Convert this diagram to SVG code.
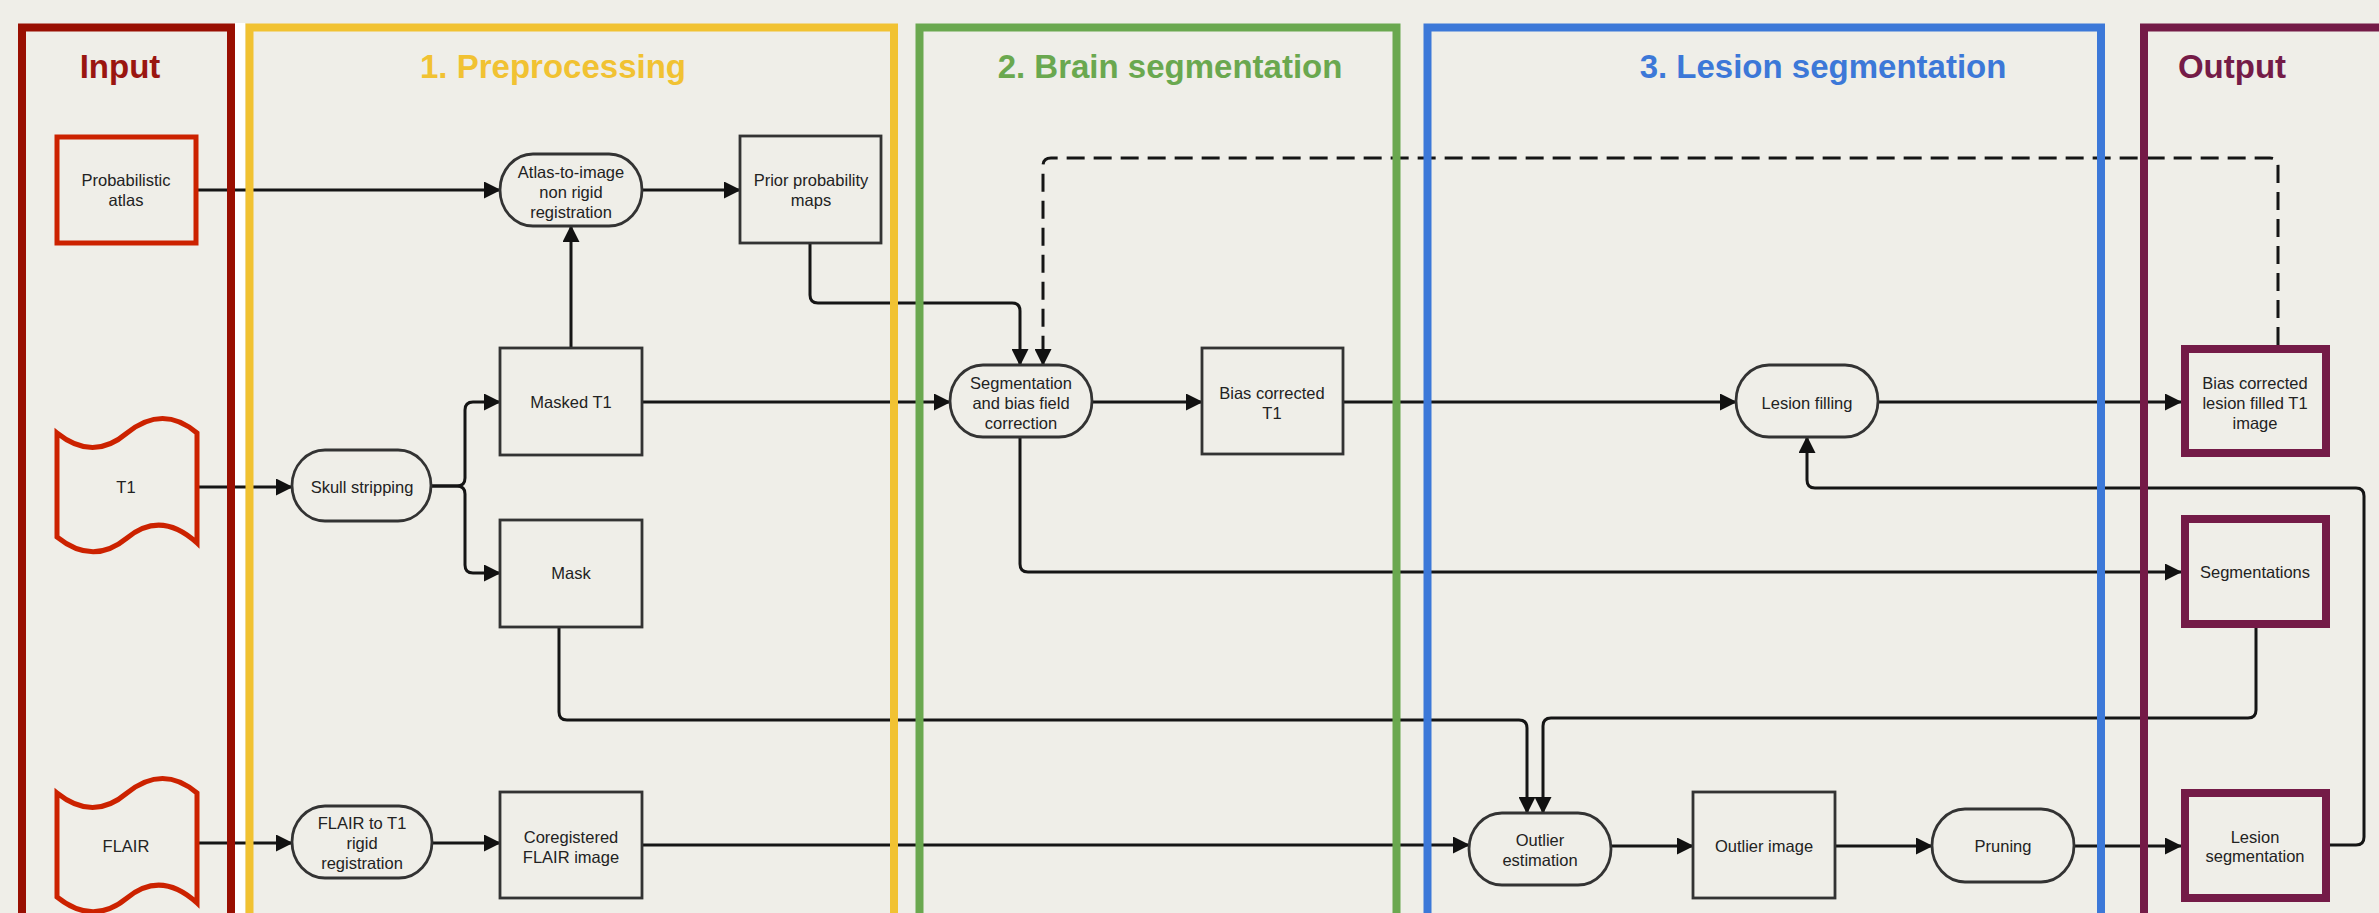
<svg xmlns="http://www.w3.org/2000/svg" width="2379" height="913" viewBox="0 0 2379 913">
<defs>
<style>
.bg{fill:#EFEEE8}
.panel{fill:none;stroke-width:8}
.title{font-family:"Liberation Sans",Arial,sans-serif;font-weight:bold;font-size:33px;text-anchor:middle}
.lbl{font-family:"Liberation Sans",Arial,sans-serif;font-size:16.5px;fill:#222;text-anchor:middle}
.proc{fill:#EFEEE8;stroke:#333;stroke-width:2.8}
.inp{fill:#EFEEE8;stroke:#CC2200;stroke-width:5}
.out{fill:#EFEEE8;stroke:#741B47;stroke-width:8}
.conn{fill:none;stroke:#151515;stroke-width:3}
.dash{stroke-dasharray:18 9}
</style>
<marker id="arr" viewBox="0 0 17 17" refX="16" refY="8.5" markerWidth="17" markerHeight="17" markerUnits="userSpaceOnUse" orient="auto">
<path d="M0,0 L17,8.5 L0,17 Z" fill="#111"/>
</marker>
</defs>
<rect class="bg" x="0" y="0" width="2379" height="913"/>
<rect x="235" y="23" width="10" height="900" fill="#FFFFFF"/>

<g id="connectors">
<path class="conn" marker-end="url(#arr)" d="M198,190 H500"/>
<path class="conn" marker-end="url(#arr)" d="M642,190 H740"/>
<path class="conn" marker-end="url(#arr)" d="M571,348 V226"/>
<path class="conn" marker-end="url(#arr)" d="M197,487 H292"/>
<path class="conn" marker-end="url(#arr)" d="M431,486 H457 Q465,486 465,478 V410 Q465,402 473,402 H500"/>
<path class="conn" marker-end="url(#arr)" d="M431,486 H457 Q465,486 465,494 V565 Q465,573 473,573 H500"/>
<path class="conn" marker-end="url(#arr)" d="M197,843 H292"/>
<path class="conn" marker-end="url(#arr)" d="M432,843 H500"/>
<path class="conn" marker-end="url(#arr)" d="M642,845 H1469"/>
<path class="conn" marker-end="url(#arr)" d="M642,402 H950"/>
<path class="conn" marker-end="url(#arr)" d="M810,243 V295 Q810,303 818,303 H1012 Q1020,303 1020,311 V365"/>
<path class="conn" marker-end="url(#arr)" d="M1092,402 H1202"/>
<path class="conn" marker-end="url(#arr)" d="M1343,402 H1736"/>
<path class="conn" marker-end="url(#arr)" d="M1878,402 H2181"/>
<path class="conn dash" marker-end="url(#arr)" d="M2278,345 V166 Q2278,158 2270,158 H1051 Q1043,158 1043,166 V365"/>
<path class="conn" marker-end="url(#arr)" d="M1020,437 V564 Q1020,572 1028,572 H2181"/>
<path class="conn" marker-end="url(#arr)" d="M559,627 V712 Q559,720 567,720 H1519 Q1527,720 1527,728 V813"/>
<path class="conn" marker-end="url(#arr)" d="M2256,628 V710 Q2256,718 2248,718 H1551 Q1543,718 1543,726 V813"/>
<path class="conn" marker-end="url(#arr)" d="M1611,846 H1693"/>
<path class="conn" marker-end="url(#arr)" d="M1835,846 H1932"/>
<path class="conn" marker-end="url(#arr)" d="M2074,846 H2181"/>
<path class="conn" marker-end="url(#arr)" d="M2330,845 H2356 Q2364,845 2364,837 V496 Q2364,488 2356,488 H1815 Q1807,488 1807,480 V437"/>
</g>

<g id="panel-input">
<rect class="panel" x="22" y="27.5" width="209" height="1000" stroke="#990F02"/>
<text class="title" x="120" y="78" fill="#9A1510">Input</text>
</g>
<g id="panel-preprocessing">
<rect class="panel" x="249.5" y="27.5" width="644.5" height="1000" stroke="#F1C232"/>
<text class="title" x="553" y="78" fill="#F1C232">1. Preprocessing</text>
</g>
<g id="panel-brain">
<rect class="panel" x="919.5" y="27.5" width="477" height="1000" stroke="#6AA84F"/>
<text class="title" x="1170" y="78" fill="#6AA84F">2. Brain segmentation</text>
</g>
<g id="panel-lesion">
<rect class="panel" x="1427.5" y="27.5" width="673.5" height="1000" stroke="#3C78D8"/>
<text class="title" x="1823" y="78" fill="#3C78D8">3. Lesion segmentation</text>
</g>
<g id="panel-output">
<rect class="panel" x="2144" y="27.5" width="400" height="1000" stroke="#741B47"/>
<text class="title" x="2232" y="78" fill="#741B47">Output</text>
</g>

<g id="node-prob-atlas">
<rect class="inp" x="57" y="137" width="139" height="106"/>
<text class="lbl" x="126" y="186">Probabilistic</text>
<text class="lbl" x="126" y="206">atlas</text>
</g>
<g id="node-t1">
<path class="inp" d="M57,433 Q93,462 127,433 Q163,404 197,433 L197,543 Q161,510 127,538 Q93,566 57,537 Z"/>
<text class="lbl" x="126" y="493">T1</text>
</g>
<g id="node-flair">
<path class="inp" d="M57,793 Q93,822 127,793 Q163,764 197,793 L197,903 Q161,870 127,898 Q93,926 57,897 Z"/>
<text class="lbl" x="126" y="852">FLAIR</text>
</g>

<g id="node-atlas-reg">
<rect class="proc" x="500" y="154" width="142" height="72" rx="33" ry="36"/>
<text class="lbl" x="571" y="178">Atlas-to-image</text>
<text class="lbl" x="571" y="198">non rigid</text>
<text class="lbl" x="571" y="218">registration</text>
</g>
<g id="node-prior">
<rect class="proc" x="740" y="136" width="141" height="107"/>
<text class="lbl" x="811" y="186">Prior probability</text>
<text class="lbl" x="811" y="206">maps</text>
</g>
<g id="node-masked-t1">
<rect class="proc" x="500" y="348" width="142" height="107"/>
<text class="lbl" x="571" y="408">Masked T1</text>
</g>
<g id="node-skull">
<rect class="proc" x="292" y="450" width="139" height="71" rx="33" ry="35.5"/>
<text class="lbl" x="362" y="493">Skull stripping</text>
</g>
<g id="node-mask">
<rect class="proc" x="500" y="520" width="142" height="107"/>
<text class="lbl" x="571" y="579">Mask</text>
</g>
<g id="node-flair-reg">
<rect class="proc" x="292" y="806" width="140" height="72" rx="33" ry="36"/>
<text class="lbl" x="362" y="829">FLAIR to T1</text>
<text class="lbl" x="362" y="849">rigid</text>
<text class="lbl" x="362" y="869">registration</text>
</g>
<g id="node-coreg">
<rect class="proc" x="500" y="792" width="142" height="106"/>
<text class="lbl" x="571" y="843">Coregistered</text>
<text class="lbl" x="571" y="863">FLAIR image</text>
</g>

<g id="node-seg-bias">
<rect class="proc" x="950" y="365" width="142" height="72" rx="33" ry="36"/>
<text class="lbl" x="1021" y="389">Segmentation</text>
<text class="lbl" x="1021" y="409">and bias field</text>
<text class="lbl" x="1021" y="429">correction</text>
</g>
<g id="node-bias-t1">
<rect class="proc" x="1202" y="348" width="141" height="106"/>
<text class="lbl" x="1272" y="399">Bias corrected</text>
<text class="lbl" x="1272" y="419">T1</text>
</g>

<g id="node-lesion-filling">
<rect class="proc" x="1736" y="365" width="142" height="72" rx="33" ry="36"/>
<text class="lbl" x="1807" y="409">Lesion filling</text>
</g>
<g id="node-outlier-est">
<rect class="proc" x="1469" y="813" width="142" height="72" rx="33" ry="36"/>
<text class="lbl" x="1540" y="846">Outlier</text>
<text class="lbl" x="1540" y="866">estimation</text>
</g>
<g id="node-outlier-img">
<rect class="proc" x="1693" y="792" width="142" height="106"/>
<text class="lbl" x="1764" y="852">Outlier image</text>
</g>
<g id="node-pruning">
<rect class="proc" x="1932" y="809" width="142" height="73" rx="33" ry="36.5"/>
<text class="lbl" x="2003" y="852">Pruning</text>
</g>

<g id="node-out-bclf">
<rect class="out" x="2185" y="349" width="141" height="104"/>
<text class="lbl" x="2255" y="389">Bias corrected</text>
<text class="lbl" x="2255" y="409">lesion filled T1</text>
<text class="lbl" x="2255" y="429">image</text>
</g>
<g id="node-out-segs">
<rect class="out" x="2185" y="519" width="141" height="105"/>
<text class="lbl" x="2255" y="578">Segmentations</text>
</g>
<g id="node-out-lesion">
<rect class="out" x="2185" y="793" width="141" height="105"/>
<text class="lbl" x="2255" y="843">Lesion</text>
<text class="lbl" x="2255" y="862">segmentation</text>
</g>
</svg>
